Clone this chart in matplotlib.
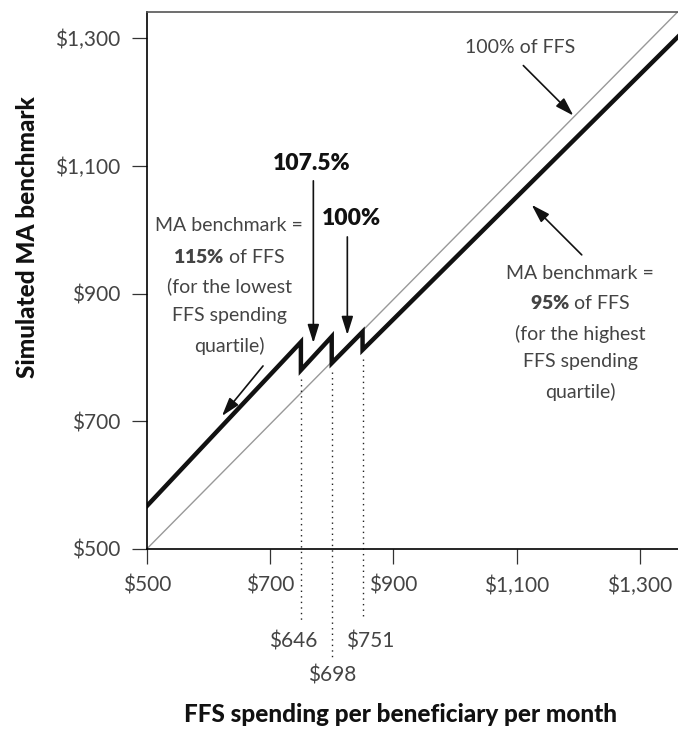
import matplotlib
matplotlib.use("Agg")
import matplotlib.pyplot as plt

plt.rcParams['font.family'] = ['Lato', 'DejaVu Sans']
plt.rcParams['mathtext.fontset'] = 'custom'
plt.rcParams['mathtext.rm'] = 'Lato'
plt.rcParams['mathtext.bf'] = 'Lato:heavy'

# FFS spending (x) and simulated MA benchmark (y)
ffs_line_x = [500, 1360]
ffs_line_y = [500, 1340]

bench_x = [500, 750, 750, 800, 800, 850, 850, 1361.5]
bench_y = [567, 824, 780, 832.5, 791, 840, 811.7, 1302]

# quartile cut points and their labels
cut_x = [750, 800, 850]
cut_low = [780, 791, 811.7]
cut_labels = ['$646', '$698', '$751']

xticks = [500, 700, 900, 1100, 1300]
yticks = [500, 700, 900, 1100, 1300]
tick_labels = ['$500', '$700', '$900', '$1,100', '$1,300']

TXT = '#444444'

fig = plt.figure(figsize=(6.78, 7.38), dpi=100)
ax = fig.add_axes([0.2164, 0.2561, 0.7836, 0.727])

ax.plot(ffs_line_x, ffs_line_y, color='#999999', lw=1.0)
ax.plot(bench_x, bench_y, color='#111111', lw=3.2, solid_joinstyle='miter')

# dotted drop lines down to the cut labels
dot_bottom = [389, 331, 389]
for x, lo, bot in zip(cut_x, cut_low, dot_bottom):
    ax.plot([x, x], [lo - 14, bot], color='#222222', lw=1.0,
            linestyle=(0, (1, 3)), clip_on=False)

ax.text(737, 355, cut_labels[0], ha='center', va='center', fontsize=15, color=TXT)
ax.text(801, 302, cut_labels[1], ha='center', va='center', fontsize=15, color=TXT)
ax.text(862, 355, cut_labels[2], ha='center', va='center', fontsize=15, color=TXT)

ax.set_xlim(500, 1361.5)
ax.set_ylim(500, 1340)
ax.set_xticks(xticks)
ax.set_xticklabels(tick_labels)
ax.set_yticks(yticks)
ax.set_yticklabels(tick_labels)
ax.tick_params(axis='both', length=11, width=0.9, color='#333333',
               labelsize=15, labelcolor=TXT)
ax.tick_params(axis='x', pad=8)
ax.tick_params(axis='y', pad=8)

ax.spines['right'].set_visible(False)
ax.spines['top'].set_color('#555555')
ax.spines['top'].set_linewidth(1.2)
ax.spines['left'].set_linewidth(1.2)
ax.spines['bottom'].set_linewidth(1.2)

arrow = dict(arrowstyle='-|>,head_length=0.8,head_width=0.25', color='#111111',
             lw=1.2, shrinkA=0, shrinkB=0, mutation_scale=14)

# left note (115%)
left_lines = ['MA benchmark =', r'$\mathbf{115\%}$ of FFS', '(for the lowest',
              'FFS spending', 'quartile)']
left_y = [1005.9, 957.3, 911.9, 864.9, 817.9]
for s, y in zip(left_lines, left_y):
    ax.text(633.5, y, s, ha='center', va='center', fontsize=14, color=TXT)
ax.annotate('', xy=(622.1, 708.3), xytext=(688.6, 786.6), arrowprops=arrow)

# middle steps
ax.text(767.6, 1104.1, '107.5%', ha='center', va='center', fontsize=16.5,
        fontweight='heavy', color='#111111')
ax.annotate('', xy=(770.2, 822.6), xytext=(770.2, 1076.4), arrowprops=arrow)
ax.text(831.3, 1017.9, '100%', ha='center', va='center', fontsize=16.5,
        fontweight='heavy', color='#111111')
ax.annotate('', xy=(825.3, 835.2), xytext=(825.3, 988.6), arrowprops=arrow)

# 100% of FFS
ax.text(1104.8, 1285.8, '100% of FFS', ha='center', va='center', fontsize=14,
        color=TXT)
ax.annotate('', xy=(1191.8, 1178.6), xytext=(1110.7, 1256.9), arrowprops=arrow)

# right note (95%)
right_lines = ['MA benchmark =', r'$\mathbf{95\%}$ of FFS', '(for the highest',
               'FFS spending', 'quartile)']
right_y = [931.8, 884.8, 836.7, 793.4, 746.4]
for s, y in zip(right_lines, right_y):
    ax.text(1202.8, y, s, ha='center', va='center', fontsize=14, color=TXT)
ax.annotate('', xy=(1124.3, 1038.8), xytext=(1205.4, 960.5), arrowprops=arrow)

fig.text(0.040, 0.679, 'Simulated MA benchmark', rotation=90, ha='center',
         va='center', fontsize=17.5, fontweight='black', color='#111111')
fig.text(0.59, 0.0325, 'FFS spending per beneficiary per month', ha='center',
         va='center', fontsize=17.5, fontweight='black', color='#111111')

fig.savefig('out.png', dpi=100)
